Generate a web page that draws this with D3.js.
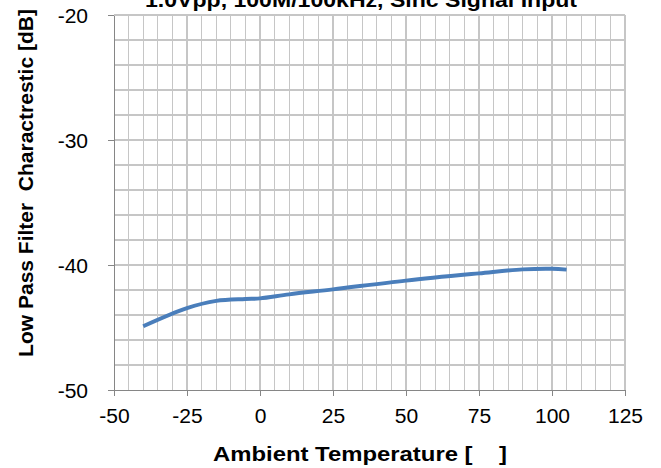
<!DOCTYPE html>
<html>
<head>
<meta charset="utf-8">
<script src="https://cdn.jsdelivr.net/npm/d3@7"></script>
<style>
  html, body { margin: 0; padding: 0; background: #fff; }
  svg { display: block; font-family: "Liberation Sans", Arial, sans-serif; }
</style>
</head>
<body>
<svg id="chart" width="661" height="468"></svg>
<script>
// Ambient temperature [°C] and low pass filter characteristic [dB]
const temperature = [-40, -25, -15, -5, 0, 10, 25, 50, 75, 90, 100, 105];
const attenuation = [-44.9, -43.45, -42.87, -42.72, -42.67, -42.35, -41.95, -41.25, -40.67, -40.35, -40.3, -40.37];

const xTicks = [-50, -25, 0, 25, 50, 75, 100, 125];
const yTicks = [-20, -30, -40, -50];

const titleText = "1.0Vpp, 100M/100kHz, Sinc Signal Input";
const xTitle = "Ambient Temperature [    ]";
const yTitle = "Low Pass Filter  Charactrestic [dB]";

const svg = d3.select("#chart");
const plotLeft = 114, plotRight = 625, plotTop = 15, plotBottom = 390;

const x = d3.scaleLinear().domain([-50, 125]).range([plotLeft, plotRight]);
const y = d3.scaleLinear().domain([-50, -20]).range([plotBottom, plotTop]);

// minor grid: every 5 °C and every 2 dB
const grid = svg.append("g").attr("shape-rendering", "crispEdges");
grid.selectAll("line.v").data(d3.range(-45, 126, 5)).join("line")
  .attr("class", "v")
  .attr("x1", d => x(d)).attr("x2", d => x(d))
  .attr("y1", plotTop).attr("y2", plotBottom)
  .attr("stroke", "#c6c6c6").attr("stroke-width", 1.2);
grid.selectAll("line.h").data(d3.range(-48, -19, 2)).join("line")
  .attr("class", "h")
  .attr("x1", plotLeft).attr("x2", plotRight)
  .attr("y1", d => y(d)).attr("y2", d => y(d))
  .attr("stroke", "#c6c6c6").attr("stroke-width", 1.2);

// axes
const fmt = d => String(d);
const xAxis = d3.axisBottom(x).tickValues(xTicks).tickFormat(fmt).tickSize(6).tickSizeOuter(0).tickPadding(13);
const yAxis = d3.axisLeft(y).tickValues(yTicks).tickFormat(fmt).tickSize(6).tickSizeOuter(0).tickPadding(18);

const gx = svg.append("g").attr("transform", `translate(0,${plotBottom})`).call(xAxis);
const gy = svg.append("g").attr("transform", `translate(${plotLeft},0)`).call(yAxis);

[gx, gy].forEach(g => {
  g.attr("shape-rendering", "crispEdges");
  g.select(".domain").attr("stroke", "#868686").attr("stroke-width", 1.6);
  g.selectAll(".tick line").attr("stroke", "#868686").attr("stroke-width", 1.6);
  g.selectAll(".tick text")
    .attr("font-family", "'Liberation Sans', Arial, sans-serif")
    .attr("font-size", 19.5).attr("fill", "#000")
    .attr("transform", "scale(1.08,1)");
});
gx.selectAll(".tick text").attr("dy", "0.71em");
gy.selectAll(".tick text").attr("dy", "0.36em");

// data line
const line = d3.line()
  .x((d, i) => x(temperature[i]))
  .y(d => y(d))
  .curve(d3.curveCatmullRom.alpha(0.5));

svg.append("path")
  .datum(attenuation)
  .attr("d", line)
  .attr("fill", "none")
  .attr("stroke", "#4a7ebb")
  .attr("stroke-width", 4)
  .attr("stroke-linecap", "butt");

// titles
svg.append("text")
  .attr("x", 145).attr("y", 7)
  .attr("font-size", 21).attr("font-weight", "bold")
  .attr("textLength", 432).attr("lengthAdjust", "spacingAndGlyphs")
  .text(titleText);

svg.append("text")
  .attr("x", 213).attr("y", 461)
  .attr("font-size", 20).attr("font-weight", "bold")
  .attr("textLength", 294).attr("lengthAdjust", "spacingAndGlyphs")
  .style("white-space", "pre")
  .text(xTitle);

svg.append("text")
  .attr("transform", "translate(33,183) rotate(-90)")
  .attr("text-anchor", "middle")
  .attr("font-size", 21).attr("font-weight", "bold")
  .style("white-space", "pre")
  .text(yTitle);
</script>
</body>
</html>
